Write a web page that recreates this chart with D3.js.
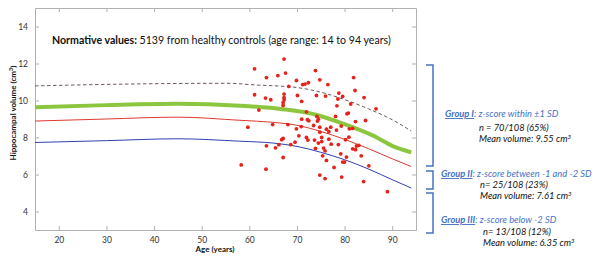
<!DOCTYPE html>
<html>
<head>
<meta charset="utf-8">
<script src="https://cdn.jsdelivr.net/npm/d3@7"></script>
<style>
  body { margin: 0; background: #fff; }
  text { font-family: Lato, "Open Sans", sans-serif; }
</style>
</head>
<body>
<div id="chart"></div>
<script>
// axis ticks
const xTicks = [20, 30, 40, 50, 60, 70, 80, 90];
const yTicks = [4, 6, 8, 10, 12, 14];

// normative curves (age, volume)
const meanCurve = [[15, 9.64], [30, 9.75], [45, 9.82], [58, 9.72], [67, 9.53], [74, 9.23], [80, 8.72], [86, 8.1], [90, 7.55], [94, 7.2]];
const minus1Curve = [[15, 8.89], [30, 9.0], [45, 9.1], [58, 8.93], [65, 8.82], [70, 8.66], [75, 8.33], [80, 7.9], [85, 7.4], [90, 6.85], [94, 6.43]];
const minus2Curve = [[15, 7.73], [30, 7.83], [45, 7.93], [58, 7.8], [65, 7.7], [70, 7.52], [75, 7.2], [80, 6.8], [85, 6.3], [90, 5.72], [94, 5.27]];
const plus1Curve = [[15, 10.79], [30, 10.87], [45, 10.92], [56, 10.93], [60, 10.86], [70, 10.7], [75, 10.45], [80, 10.05], [85, 9.55], [90, 8.96], [94, 8.35]];

// patients (age, volume)
const patients = [
  [67.3, 12.24], [61.1, 11.71], [63.6, 11.24], [66.0, 11.35], [67.6, 11.48], [73.9, 11.62], [81.9, 11.24], [74.8, 11.12],
  [69.9, 11.08], [76.5, 10.86], [68.3, 10.76], [71.2, 10.86], [71.7, 10.89], [72.4, 10.96], [61.1, 10.31], [63.4, 10.13],
  [64.5, 10.04], [67.3, 10.35], [67.3, 10.16], [67.3, 10.04], [67.1, 9.89], [67.1, 9.73], [70.1, 10.27], [71.0, 9.95],
  [74.1, 10.27], [76.0, 10.24], [78.8, 10.40], [79.6, 10.22], [78.6, 10.08], [82.2, 10.54], [84.1, 10.16], [81.3, 9.81],
  [80.8, 9.32], [80.5, 9.28], [78.4, 9.71], [86.6, 9.55], [62.0, 9.48], [72.0, 9.39], [71.0, 8.99], [72.2, 8.96],
  [72.5, 8.90], [74.2, 9.14], [74.5, 8.99], [78.1, 9.14], [84.4, 8.92], [82.3, 8.86], [59.7, 8.56], [64.9, 8.70],
  [68.1, 8.70], [69.9, 8.47], [70.9, 8.59], [73.5, 8.65], [74.8, 8.56], [74.8, 8.29], [74.3, 8.89], [76.2, 8.45],
  [77.1, 8.56], [76.7, 8.31], [78.3, 8.40], [79.3, 8.62], [81.0, 8.47], [81.7, 8.49], [70.4, 8.09], [72.0, 8.00],
  [72.3, 7.86], [67.1, 7.95], [66.8, 7.88], [69.6, 7.75], [68.7, 7.62], [66.2, 7.61], [63.6, 7.55], [65.5, 7.44],
  [73.7, 7.86], [75.2, 8.00], [75.2, 7.78], [74.5, 7.70], [76.7, 7.91], [77.2, 7.64], [78.7, 7.62], [80.2, 7.88],
  [80.9, 8.02], [82.5, 7.54], [83.0, 7.57], [82.3, 7.34], [81.7, 7.39], [73.9, 7.41], [75.6, 7.43], [75.9, 7.28],
  [79.2, 7.12], [80.4, 6.94], [79.6, 6.67], [80.0, 6.67], [83.5, 7.01], [75.4, 7.01], [76.2, 6.76], [67.1, 6.92],
  [63.5, 6.29], [58.3, 6.52], [77.8, 6.38], [74.8, 5.97], [75.9, 5.78], [79.4, 5.86], [84.0, 5.62], [85.1, 6.47],
  [89.0, 5.07]
];

// group annotations
const groups = [
  { title: "Group I", desc: ": z-score within \u00b11 SD", n: "n = 70/108 (65%)", mean: "Mean volume: 9.55 cm" },
  { title: "Group II", desc: ": z-score between -1 and -2 SD", n: "n= 25/108 (23%)", mean: "Mean volume: 7.61 cm" },
  { title: "Group III", desc: ": z-score below -2 SD", n: "n= 13/108 (12%)", mean: "Mean volume: 6.35 cm" }
];

const width = 598, height = 257;
const margin = { top: 8, right: 182, bottom: 27, left: 35 };
const blue = "#4472c4";

const svg = d3.select("#chart")
    .append("svg")
    .attr("width", width)
    .attr("height", height);

const x = d3.scaleLinear().domain([15, 95]).range([margin.left, width - margin.right]);
const y = d3.scaleLinear().domain([3, 15]).range([height - margin.bottom, margin.top]);

// axes, MATLAB style: ticks inside, box on
const axisColor = "#b0b0b0";
const tickLen = 4;

function styleAxis(g) {
    g.select(".domain").attr("stroke", axisColor);
    g.selectAll(".tick line").attr("stroke", axisColor);
    g.selectAll(".tick text").attr("fill", "#333").attr("font-size", "8.5px");
}

svg.append("g")
    .attr("transform", `translate(0,${y(3)})`)
    .call(d3.axisBottom(x).tickValues(xTicks).tickSizeInner(-tickLen).tickSizeOuter(0).tickPadding(7))
    .call(styleAxis);

svg.append("g")
    .attr("transform", `translate(0,${y(15)})`)
    .call(d3.axisTop(x).tickValues(xTicks).tickSizeInner(-tickLen).tickSizeOuter(0).tickFormat(""))
    .call(styleAxis);

svg.append("g")
    .attr("transform", `translate(${x(15)},0)`)
    .call(d3.axisLeft(y).tickValues(yTicks).tickSizeInner(-tickLen).tickSizeOuter(0).tickPadding(7))
    .call(styleAxis);

svg.append("g")
    .attr("transform", `translate(${x(95)},0)`)
    .call(d3.axisRight(y).tickValues(yTicks).tickSizeInner(-tickLen).tickSizeOuter(0).tickFormat(""))
    .call(styleAxis);

// axis labels
svg.append("text")
    .attr("x", 215)
    .attr("y", 252)
    .attr("text-anchor", "middle")
    .attr("font-size", "8px")
    .attr("font-weight", "bold")
    .attr("fill", "#111")
    .text("Age (years)");

const yLab = svg.append("text")
    .attr("transform", `translate(16,113) rotate(-90)`)
    .attr("text-anchor", "middle")
    .attr("font-size", "8px")
    .attr("font-weight", "bold")
    .attr("fill", "#111");
yLab.append("tspan").text("Hippocampal volume (cm");
yLab.append("tspan").attr("font-size", "5.5px").attr("dy", -3).text("3");
yLab.append("tspan").attr("dy", 3).text(")");

// title
const title = svg.append("text")
    .attr("x", 52)
    .attr("y", 44)
    .attr("font-size", "10.6px")
    .attr("fill", "#111");
title.append("tspan").attr("font-weight", "bold").text("Normative values: ");
title.append("tspan").text("5139 from healthy controls (age range: 14 to 94 years)");

// curves
const line = d3.line()
    .x(d => x(d[0]))
    .y(d => y(d[1]))
    .curve(d3.curveMonotoneX);

svg.append("path").datum(plus1Curve)
    .attr("d", line).attr("fill", "none")
    .attr("stroke", "#6e5a5a").attr("stroke-width", 1)
    .attr("stroke-dasharray", "3.5,2.5");

svg.append("path").datum(minus2Curve)
    .attr("d", line).attr("fill", "none")
    .attr("stroke", "#2f3fb0").attr("stroke-width", 1);

svg.append("path").datum(minus1Curve)
    .attr("d", line).attr("fill", "none")
    .attr("stroke", "#dc3a2e").attr("stroke-width", 1);

svg.append("path").datum(meanCurve)
    .attr("d", line).attr("fill", "none")
    .attr("stroke", "#8cc63f").attr("stroke-width", 4);

// patients
svg.append("g")
    .selectAll("circle")
    .data(patients)
    .enter()
    .append("circle")
    .attr("cx", d => x(d[0]))
    .attr("cy", d => y(d[1]))
    .attr("r", 1.9)
    .attr("fill", "#e5231b");

// brackets
const brackets = [[65, 166], [171, 189], [193, 233]];
const bx = 433;
brackets.forEach(b => {
    svg.append("path")
        .attr("d", `M${bx - 7},${b[0]} H${bx} V${b[1]} H${bx - 7}`)
        .attr("fill", "none")
        .attr("stroke", blue)
        .attr("stroke-width", 1.5);
});

// group text
const groupPos = [
    { x: 445, y: 117, x2: 479, y2: 131, y3: 142 },
    { x: 441, y: 177, x2: 480, y2: 188, y3: 199 },
    { x: 441, y: 223, x2: 483, y2: 235, y3: 246 }
];
const groupFont = "\"Open Sans\", sans-serif";
const groupSize = "9.3px";

groups.forEach((g, i) => {
    const p = groupPos[i];
    const t = svg.append("text")
        .attr("x", p.x).attr("y", p.y)
        .attr("font-family", groupFont)
        .attr("font-size", groupSize)
        .attr("font-style", "italic")
        .attr("fill", blue);
    t.append("tspan").attr("font-weight", "bold").attr("text-decoration", "underline").text(g.title);
    t.append("tspan").text(g.desc);

    svg.append("text")
        .attr("x", p.x2).attr("y", p.y2)
        .attr("font-family", groupFont)
        .attr("font-size", groupSize)
        .attr("font-style", "italic")
        .attr("fill", "#111")
        .text(g.n);

    const m = svg.append("text")
        .attr("x", p.x2).attr("y", p.y3)
        .attr("font-family", groupFont)
        .attr("font-size", groupSize)
        .attr("font-style", "italic")
        .attr("fill", "#111");
    m.append("tspan").text(g.mean);
    m.append("tspan").attr("font-size", "6.2px").attr("dy", -3.5).text("3");
});
</script>
</body>
</html>
